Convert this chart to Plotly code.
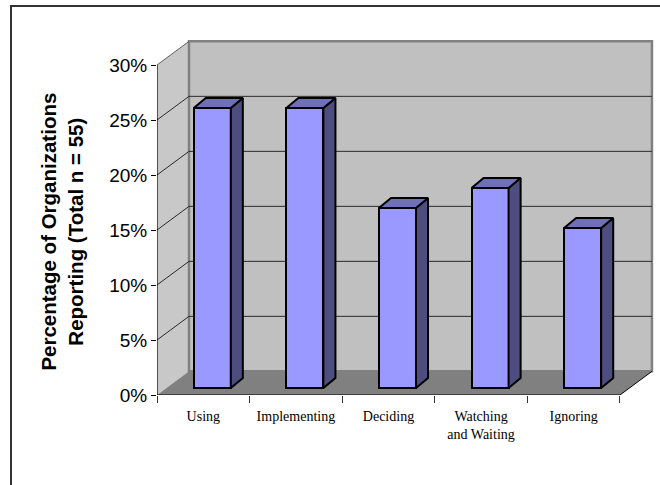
import plotly.graph_objects as go

# ---- data ----
categories = ["Using", "Implementing", "Deciding", "Watching<br>and Waiting", "Ignoring"]
values = [25.45, 25.45, 16.36, 18.18, 14.55]          # percent of organizations (n = 55)
y_ticks = [0, 5, 10, 15, 20, 25, 30]
y_ticktext = ["0%", "5%", "10%", "15%", "20%", "25%", "30%"]
y_title = "Percentage of Organizations<br>Reporting (Total n = 55)"

# ---- 3D-look geometry (in axis units) ----
n = len(categories)
X0, X1 = -0.5, n - 0.5
XMAX = X0 + 5.4
YMAX = 32.545
YTOP = y_ticks[-1]
WDX, WDY = 0.3456, 2.15      # wall depth offset
FDX, FDY = 0.097, 0.636      # bar front-plane offset
BDX, BDY = 0.227, 1.545      # bar back-plane offset
BW = 0.40

def path(pts):
    return "M " + " L ".join(f"{x},{y}" for x, y in pts) + " Z"

shapes = []
# side wall
shapes.append(dict(type="path", xref="x", yref="y", layer="below",
                   path=path([(X0, 0), (X0, YTOP), (X0 + WDX, YTOP + WDY), (X0 + WDX, WDY)]),
                   fillcolor="#C8C8C8", line=dict(width=0)))
# back wall
shapes.append(dict(type="path", xref="x", yref="y", layer="below",
                   path=path([(X0 + WDX, WDY), (X0 + WDX, YTOP + WDY), (X1 + WDX, YTOP + WDY), (X1 + WDX, WDY)]),
                   fillcolor="#C0C0C0", line=dict(color="#808080", width=2.5)))
# floor
shapes.append(dict(type="path", xref="x", yref="y", layer="below",
                   path=path([(X0, 0), (X1, 0), (X1 + WDX, WDY), (X0 + WDX, WDY)]),
                   fillcolor="#808080", line=dict(width=0)))
# gridlines on back wall
for t in y_ticks[1:-1]:
    shapes.append(dict(type="line", xref="x", yref="y", layer="below",
                       x0=X0 + WDX, y0=t + WDY, x1=X1 + WDX, y1=t + WDY,
                       line=dict(color="#2a2a2a", width=1)))
# gridlines on side wall
for t in y_ticks[1:]:
    shapes.append(dict(type="line", xref="x", yref="y", layer="below",
                       x0=X0, y0=t, x1=X0 + WDX, y1=t + WDY,
                       line=dict(color="#2a2a2a" if t < YTOP else "#606060", width=1)))
# floor front edge and right edge, y-axis line
shapes.append(dict(type="line", xref="x", yref="y", x0=X0, y0=0, x1=X1, y1=0,
                   line=dict(color="black", width=1)))
shapes.append(dict(type="line", xref="x", yref="y", x0=X1, y0=0, x1=X1 + WDX, y1=WDY,
                   line=dict(color="black", width=1)))
shapes.append(dict(type="line", xref="x", yref="y", x0=X0, y0=0, x1=X0, y1=YTOP,
                   line=dict(color="black", width=1.2)))
# outer chart border (cut off at right/bottom as in the picture)
shapes.append(dict(type="rect", xref="paper", yref="paper",
                   x0=-0.292, y0=-0.30, x1=1.05, y1=1.0866,
                   line=dict(color="#333333", width=2), fillcolor="rgba(0,0,0,0)"))

fig = go.Figure()

# bar front faces
fig.add_trace(go.Bar(
    x=[i + FDX for i in range(n)], y=values, base=FDY, width=BW,
    marker=dict(color="#9999FF", line=dict(color="black", width=2)),
    showlegend=False, hoverinfo="skip"))

# side and top faces
ddx, ddy = BDX - FDX, BDY - FDY
for i, v in enumerate(values):
    xl = i + FDX - BW / 2
    xr = i + FDX + BW / 2
    top = FDY + v
    side = [(xr, FDY), (xr + ddx, FDY + ddy), (xr + ddx, top + ddy), (xr, top), (xr, FDY)]
    topf = [(xl, top), (xr, top), (xr + ddx, top + ddy), (xl + ddx, top + ddy), (xl, top)]
    for pts, col in ((side, "#4D4D80"), (topf, "#7070B8")):
        fig.add_trace(go.Scatter(
            x=[p[0] for p in pts], y=[p[1] for p in pts], mode="lines",
            fill="toself", fillcolor=col, line=dict(color="black", width=2),
            showlegend=False, hoverinfo="skip"))

fig.update_layout(
    width=660, height=485,
    margin=dict(l=157, r=3, t=37, b=90),
    paper_bgcolor="white", plot_bgcolor="white",
    shapes=shapes,
    bargap=0,
    xaxis=dict(range=[X0, XMAX], tickvals=list(range(n)), ticktext=categories,
               ticks="", showgrid=False, zeroline=False, showline=False,
               ticklabelstandoff=11,
               tickfont=dict(family="Liberation Serif, Times New Roman, serif", size=14, color="black"),
               minor=dict(tickvals=[X0 + k for k in range(n + 1)], ticks="outside",
                          ticklen=7, tickcolor="#333333", tickwidth=1, showgrid=False)),
    yaxis=dict(range=[0, YMAX], tickvals=y_ticks, ticktext=y_ticktext, ticks="outside",
               ticklen=5, tickcolor="black", tickwidth=1,
               showgrid=False, zeroline=False, showline=False,
               tickfont=dict(family="Liberation Sans, Arial, sans-serif", size=19, color="black")),
    annotations=[dict(text=y_title, xref="paper", yref="paper", x=-0.189, y=0.455,
                      xanchor="center", yanchor="middle", textangle=-90, showarrow=False,
                      font=dict(family="Liberation Sans, Arial, sans-serif", size=20.5,
                                color="black", weight="bold"))],
)

fig.write_html("out.html")
